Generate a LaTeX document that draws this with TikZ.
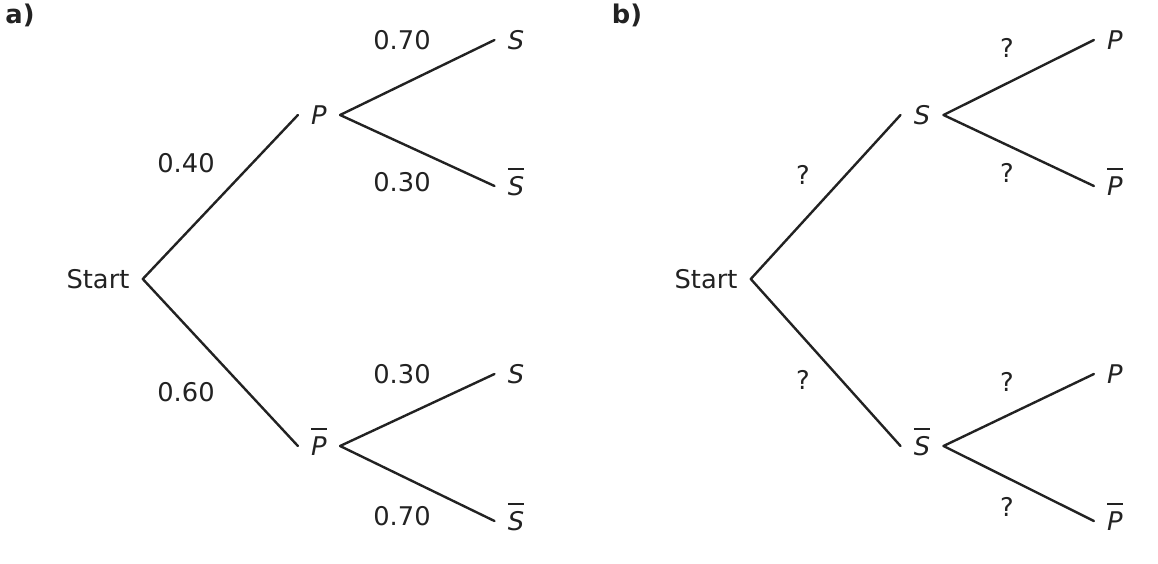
\documentclass[tikz,border=0pt]{standalone}
\usepackage{fontspec}
\setmainfont{DejaVu Sans}
\definecolor{ink}{HTML}{222222}
\newcommand{\nbar}[1]{\leavevmode\vbox{\hrule height 1.4pt \kern 5pt \hbox{\itshape #1}}}

\begin{document}
\begin{tikzpicture}[x=0.75pt, y=-0.75pt,
    every node/.style={font=\fontsize{19.3}{23}\selectfont, text=ink},
    ev/.style={inner xsep=10pt, inner ysep=0pt, outer sep=0pt, text height=14.1pt, text depth=0pt},
    prob/.style={inner sep=0pt},
    branch/.style={draw=ink, line width=1.8pt, line cap=round}]
    \useasboundingbox (0,0) rectangle (1158,564);

    % part a)
    \node[prob] (lbla) at (20,15) {\bfseries a)};
    \node[ev] (starta) at (98,279) {Start};
    \node[ev] (pa) at (319,115) {\itshape P};
    \node[ev] (npa) at (319,446) {\nbar{P}};
    \node[ev] (sa1) at (516,40) {\itshape S};
    \node[ev] (nsa1) at (516,186) {\nbar{S}};
    \node[ev] (sa2) at (516,374) {\itshape S};
    \node[ev] (nsa2) at (516,521) {\nbar{S}};

    \draw[branch] (starta.east) -- (pa.west);
    \draw[branch] (starta.east) -- (npa.west);
    \draw[branch] (pa.east) -- (sa1.west);
    \draw[branch] (pa.east) -- (nsa1.west);
    \draw[branch] (npa.east) -- (sa2.west);
    \draw[branch] (npa.east) -- (nsa2.west);

    \node[prob] (qa1) at (186,163) {0.40};
    \node[prob] (qa2) at (186,392) {0.60};
    \node[prob] (qa3) at (402,40) {0.70};
    \node[prob] (qa4) at (402,182) {0.30};
    \node[prob] (qa5) at (402,374) {0.30};
    \node[prob] (qa6) at (402,516) {0.70};

    % part b)
    \node[prob] (lblb) at (627,15) {\bfseries b)};
    \node[ev] (startb) at (706,279) {Start};
    \node[ev] (sb) at (922,115) {\itshape S};
    \node[ev] (nsb) at (922,446) {\nbar{S}};
    \node[ev] (pb1) at (1115,40) {\itshape P};
    \node[ev] (npb1) at (1115,186) {\nbar{P}};
    \node[ev] (pb2) at (1115,374) {\itshape P};
    \node[ev] (npb2) at (1115,521) {\nbar{P}};

    \draw[branch] (startb.east) -- (sb.west);
    \draw[branch] (startb.east) -- (nsb.west);
    \draw[branch] (sb.east) -- (pb1.west);
    \draw[branch] (sb.east) -- (npb1.west);
    \draw[branch] (nsb.east) -- (pb2.west);
    \draw[branch] (nsb.east) -- (npb2.west);

    \node[prob] (qb1) at (803,175) {?};
    \node[prob] (qb2) at (803,380) {?};
    \node[prob] (qb3) at (1007,48) {?};
    \node[prob] (qb4) at (1007,173) {?};
    \node[prob] (qb5) at (1007,382) {?};
    \node[prob] (qb6) at (1007,507) {?};
\end{tikzpicture}
\end{document}
